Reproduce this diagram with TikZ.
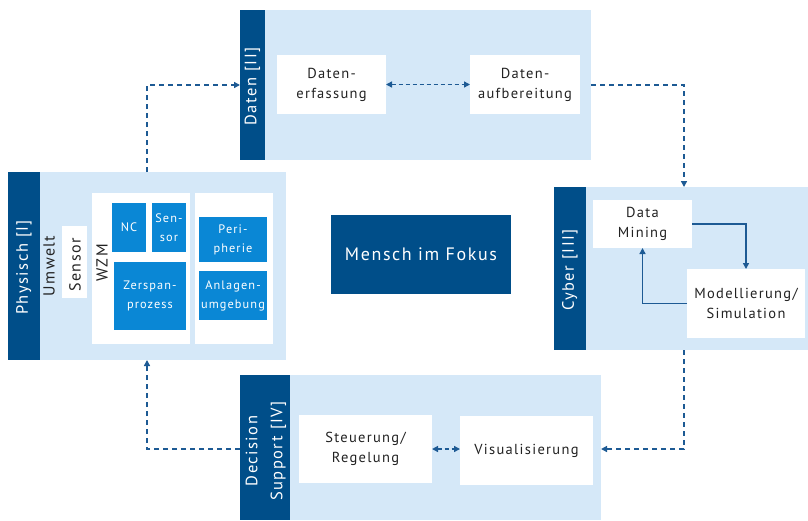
\documentclass[tikz,border=0pt]{standalone}
\usepackage{fontspec}
\setmainfont{PT Sans}[LetterSpace=9]
\usetikzlibrary{arrows.meta}
\definecolor{dkblue}{HTML}{004E89}
\definecolor{mdblue}{HTML}{0A87D5}
\definecolor{ltblue}{HTML}{D5E8F8}
\definecolor{lnblue}{HTML}{1D5A94}
\definecolor{txt}{HTML}{222222}
\tikzset{
  panel/.style={fill=ltblue, inner sep=0pt, outer sep=0pt},
  bar/.style={fill=dkblue, inner sep=0pt, outer sep=0pt},
  wbox/.style={fill=white, text=txt, inner sep=0pt, outer sep=0pt, align=center,
    font=\fontsize{14.5}{20}\selectfont},
  bbox/.style={fill=mdblue, text=white, inner sep=0pt, outer sep=0pt, align=center,
    font=\fontsize{12.3}{19}\selectfont},
  barlabel/.style={rotate=90, text=white, align=center,
    font=\fontsize{16.5}{25}\selectfont},
  vlabel/.style={rotate=90, text=txt, font=\fontsize{16}{20}\selectfont},
  flow/.style={draw=lnblue, line width=1.4pt, dash pattern=on 5pt off 4pt,
    -{Triangle[length=6pt,width=6pt]}},
  biflow/.style={draw=lnblue, line width=1.4pt, dash pattern=on 4pt off 3pt,
    {Triangle[length=6pt,width=6pt]}-{Triangle[length=6pt,width=6pt]}},
  loopflow/.style={draw=lnblue, line width=1.4pt, -{Triangle[length=6pt,width=6pt]}},
}
\begin{document}
\begin{tikzpicture}[x=1pt,y=-1pt]
\useasboundingbox (0,0) rectangle (808,520);

% Physisch [I]
\node[panel, minimum width=278pt, minimum height=188pt] (phys) at (147,266) {};
\node[bar, minimum width=32pt, minimum height=188pt] (physbar) at (24,266) {};
\node[barlabel] (physlbl) at (24,267.5) {Physisch [I]};
\node[vlabel] (umwelt) at (49,266) {Umwelt};
\node[wbox, minimum width=25pt, minimum height=72pt] (sensorbox) at (74.5,262) {};
\node[vlabel] (sensorlbl) at (75,265) {Sensor};
\node[wbox, minimum width=98pt, minimum height=151pt] (wzm) at (141,268.5) {};
\node[vlabel] (wzmlbl) at (102,263) {WZM};
\node[wbox, minimum width=78pt, minimum height=151pt] (umg) at (234,268.5) {};
\node[bbox, minimum width=34pt, minimum height=49pt] (nc) at (129,227.5) {NC};
\node[bbox, minimum width=34pt, minimum height=49pt] (sen) at (169,227.5) {Sen-\\sor};
\node[bbox, minimum width=72pt, minimum height=68pt] (zer) at (150,296) {Zerspan-\\prozess};
\node[bbox, minimum width=68pt, minimum height=45pt] (peri) at (233,239.5) {Peri-\\pherie};
\node[bbox, minimum width=68pt, minimum height=49pt] (anl) at (233,295.5) {Anlagen-\\umgebung};

% Daten [II]
\node[panel, minimum width=351pt, minimum height=150pt] (daten) at (415.5,85) {};
\node[bar, minimum width=25pt, minimum height=150pt] (datenbar) at (252.5,85) {};
\node[barlabel] (datenlbl) at (252.5,86.5) {Daten [II]};
\node[wbox, minimum width=109pt, minimum height=59pt] (erf) at (331.5,84.5) {Daten-\\erfassung};
\node[wbox, minimum width=110pt, minimum height=59pt] (aufb) at (525,84.5) {Daten-\\aufbereitung};

% Cyber [III]
\node[panel, minimum width=254pt, minimum height=163pt] (cyber) at (681,268.5) {};
\node[bar, minimum width=32pt, minimum height=163pt] (cyberbar) at (570,268.5) {};
\node[barlabel] (cyberlbl) at (570,270) {Cyber [III]};
\node[wbox, minimum width=99pt, minimum height=48pt] (dm) at (642.5,224) {Data\\Mining};
\node[wbox, minimum width=118pt, minimum height=69pt] (mod) at (746,303.5) {Modellierung/\\Simulation};

% Decision Support [IV]
\node[panel, minimum width=361pt, minimum height=145pt] (dec) at (420.5,447.5) {};
\node[bar, minimum width=50pt, minimum height=145pt] (decbar) at (265,447.5) {};
\node[barlabel] (declbl) at (266,451) {Decision\\Support [IV]};
\node[wbox, minimum width=133pt, minimum height=68pt] (steu) at (365.5,449) {Steuerung/\\Regelung};
\node[wbox, minimum width=133pt, minimum height=69pt] (vis) at (526.5,450.5) {Visualisierung};

% centre
\node[fill=dkblue, text=white, inner sep=0pt, minimum width=180pt, minimum height=79pt,
  font=\fontsize{18}{20}\selectfont] (mensch) at (421,254.5) {Mensch im Fokus};

% cycle between the four layers
\coordinate (c1) at (684,85);
\coordinate (c2) at (684,449);
\draw[flow] (phys.north) |- (datenbar.west);
\draw[flow] (daten.east) -- (c1) -- (c1 |- cyber.north);
\draw[flow] (c1 |- cyber.south) -- (c2) -- (c2 -| dec.east);
\draw[flow] (c2 -| decbar.west) -| (phys.south);

% inner links
\draw[biflow] (erf.east) -- (erf.east -| aufb.west);
\draw[biflow] (steu.east) -- (steu.east -| vis.west);
\draw[loopflow] (dm.east) -| (mod.north);
\draw[loopflow] (mod.west) -| (dm.south);
\end{tikzpicture}
\end{document}
